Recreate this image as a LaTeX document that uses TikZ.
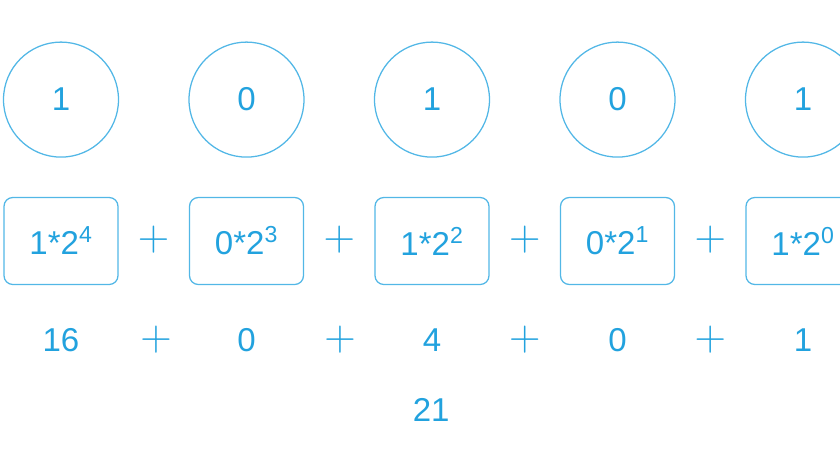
\documentclass[tikz,border=0pt]{standalone}
\usepackage{fix-cm}
\usepackage{fontspec}
\setmainfont{Liberation Sans}
\usepackage{xcolor}
\usetikzlibrary{positioning}
\definecolor{bitblue}{HTML}{22A2DE}
\definecolor{bitline}{HTML}{52B7E6}

\begin{document}
\begin{tikzpicture}[
    bit/.style={circle, draw=bitline, line width=0.9pt, minimum size=2.875cm, inner sep=0pt, text=bitblue, font=\fontsize{23.5}{28}\selectfont},
    term/.style={draw=bitline, line width=0.9pt, rounded corners=0.22cm, minimum width=2.85cm, minimum height=2.175cm, inner sep=0pt, text=bitblue, font=\fontsize{23.5}{28}\selectfont},
    val/.style={text=bitblue, inner sep=0pt, font=\fontsize{23.5}{28}\selectfont},
    op/.style={text=bitblue, inner sep=0pt, font=\fontsize{31}{31}\selectfont}
  ]
    \useasboundingbox (0,0) rectangle (21,-11.475);

    % bits
    \node[bit] (bit4) at (1.525,-2.49) {1};
    \node[bit] (bit3) at (6.1625,-2.49) {0};
    \node[bit] (bit2) at (10.8,-2.49) {1};
    \node[bit] (bit1) at (15.4375,-2.49) {0};
    \node[bit] (bit0) at (20.075,-2.49) {1};

    % weighted terms
    \node[term] (term4) at (1.525,-6.025) {1*2\textsuperscript{4}};
    \node[term] (term3) at (6.1625,-6.025) {0*2\textsuperscript{3}};
    \node[term] (term2) at (10.8,-6.025) {1*2\textsuperscript{2}};
    \node[term] (term1) at (15.4375,-6.025) {0*2\textsuperscript{1}};
    \node[term] (term0) at (20.075,-6.025) {1*2\textsuperscript{0}};
    \node[op] (tplus43) at (3.84,-6.0) {$+$};
    \node[op] (tplus32) at (8.48,-6.0) {$+$};
    \node[op] (tplus21) at (13.12,-6.0) {$+$};
    \node[op] (tplus10) at (17.76,-6.0) {$+$};

    % values
    \node[val] (val4) at (1.525,-8.5) {16};
    \node[val] (val3) at (6.1625,-8.5) {0};
    \node[val] (val2) at (10.8,-8.5) {4};
    \node[val] (val1) at (15.4375,-8.5) {0};
    \node[val] (val0) at (20.075,-8.5) {1};
    \node[op] (vplus43) at (3.9,-8.5) {$+$};
    \node[op] (vplus32) at (8.5,-8.5) {$+$};
    \node[op] (vplus21) at (13.12,-8.5) {$+$};
    \node[op] (vplus10) at (17.76,-8.5) {$+$};

    \node[val] (sum) at (10.78,-10.25) {21};
  \end{tikzpicture}
\end{document}
